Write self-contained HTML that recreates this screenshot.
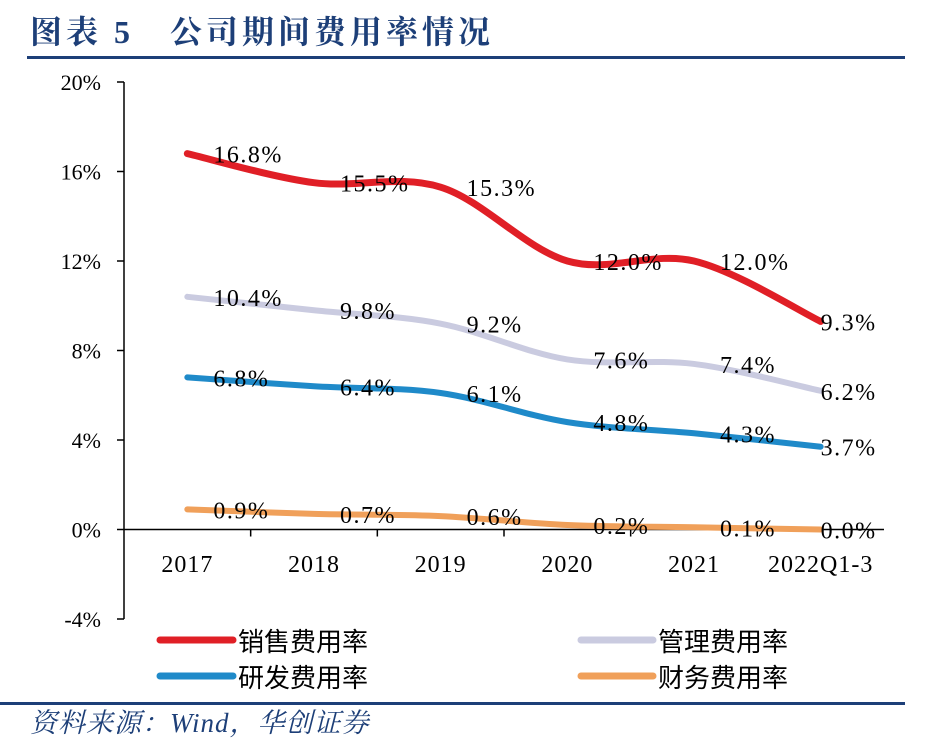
<!DOCTYPE html>
<html><head><meta charset="utf-8">
<style>
body{margin:0;background:#fff;}
svg{display:block;}
text{font-family:"Liberation Serif","Noto Serif CJK SC",serif;}
</style></head>
<body>
<svg width="934" height="749" xmlns="http://www.w3.org/2000/svg">
<text x="30" y="43" font-size="32" font-weight="bold" fill="#1d3f78" style="font-family:'Liberation Serif','Noto Serif CJK SC',serif;letter-spacing:4px">图表 5　公司期间费用率情况</text>
<rect x="27" y="56" width="878" height="3" fill="#1d3f78"/>
<g id="axes"></g>
<g id="series"></g>
<g id="labels"></g>
<g>
<line x1="160" y1="640" x2="233" y2="640" stroke="#e01f26" stroke-width="7" stroke-linecap="round"/>
<text x="238" y="651" font-size="26" style="font-family:'Noto Sans CJK SC',sans-serif">销售费用率</text>
<line x1="581" y1="640" x2="653" y2="640" stroke="#cacbe0" stroke-width="7" stroke-linecap="round"/>
<text x="658" y="651" font-size="26" style="font-family:'Noto Sans CJK SC',sans-serif">管理费用率</text>
<line x1="160" y1="676" x2="233" y2="676" stroke="#1f8ac9" stroke-width="7" stroke-linecap="round"/>
<text x="238" y="687" font-size="26" style="font-family:'Noto Sans CJK SC',sans-serif">研发费用率</text>
<line x1="581" y1="676" x2="653" y2="676" stroke="#f0a05a" stroke-width="7" stroke-linecap="round"/>
<text x="658" y="687" font-size="26" style="font-family:'Noto Sans CJK SC',sans-serif">财务费用率</text>
</g>
<rect x="0" y="702" width="905" height="3" fill="#1d3f78"/>
<text x="30" y="732" font-size="27" font-style="italic" fill="#1d3f78" style="font-family:'Liberation Serif','Noto Serif CJK SC',serif;letter-spacing:1px">资料来源：Wind，华创证券</text>
</svg>
<script>
const categories=["2017","2018","2019","2020","2021","2022Q1-3"];
const sales=[16.8,15.5,15.3,12.0,12.0,9.3];
const admin=[10.4,9.8,9.2,7.6,7.4,6.2];
const rd=[6.8,6.4,6.1,4.8,4.3,3.7];
const finance=[0.9,0.7,0.6,0.2,0.1,0.0];
const yTicks=[-4,0,4,8,12,16,20];

const NS="http://www.w3.org/2000/svg";
const x0=124,x1=884,yTop=82,yBot=619,vMin=-4,vMax=20;
const band=(x1-x0)/categories.length;
function xs(i){return x0+band*(i+0.5);}
function ys(v){return yBot-(v-vMin)/(vMax-vMin)*(yBot-yTop);}
function mk(tag,attrs,parent){const e=document.createElementNS(NS,tag);for(const k in attrs)e.setAttribute(k,attrs[k]);parent.appendChild(e);return e;}
const axes=document.getElementById('axes');
let a=mk('line',{x1:x0,y1:yTop,x2:x0,y2:yBot,stroke:'#000','stroke-width':1.5},axes);


yTicks.forEach(v=>{
 let t=mk('line',{x1:x0-7,y1:ys(v),x2:x0,y2:ys(v),stroke:'#000','stroke-width':1.5},axes);
 
 
 let l=mk('text',{x:x0-23,y:ys(v)+8,'font-size':22,'text-anchor':'end'},axes);
 l.textContent=v+'%';
 
 
});
let xa=mk('line',{x1:x0,y1:ys(0),x2:x1,y2:ys(0),stroke:'#000','stroke-width':1.5},axes);


categories.forEach((c,i)=>{
 if(i>0){let t=mk('line',{x1:x0+band*i,y1:ys(0),x2:x0+band*i,y2:ys(0)+7,stroke:'#000','stroke-width':1.5},axes);
 
 }
 let l=mk('text',{x:xs(i),y:572,'font-size':24,'text-anchor':'middle','letter-spacing':1},axes);
 l.textContent=c;
 
 
});
function path(vals){
 const p=vals.map((v,i)=>[xs(i),ys(v)]);
 let d='M'+p[0][0]+','+p[0][1];
 for(let i=0;i<p.length-1;i++){
  const p0=p[i-1]||p[i],p1=p[i],p2=p[i+1],p3=p[i+2]||p2;
  const c1=[p1[0]+(p2[0]-p0[0])/6,p1[1]+(p2[1]-p0[1])/6];
  const c2=[p2[0]-(p3[0]-p1[0])/6,p2[1]-(p3[1]-p1[1])/6];
  d+=' C'+c1+' '+c2+' '+p2;
 }
 return d;
}
const sg=document.getElementById('series'),lg=document.getElementById('labels');
[[finance,'#f0a05a','finance'],[rd,'#1f8ac9','rd'],[admin,'#cacbe0','admin'],[sales,'#e01f26','sales']].forEach(([vals,col,nm])=>{
 let p=mk('path',{d:path(vals),fill:'none',stroke:col,'stroke-width':nm==='sales'?7:6,'stroke-linecap':'round'},sg);
 
 
 vals.forEach((v,i)=>{
  let t=mk('text',{x:xs(i)+(i===vals.length-1?0:26),y:ys(v)+9,'font-size':24,'letter-spacing':1.5},lg);
  t.textContent=v.toFixed(1)+'%';
  
  
 });
});
</script>
</body></html>
